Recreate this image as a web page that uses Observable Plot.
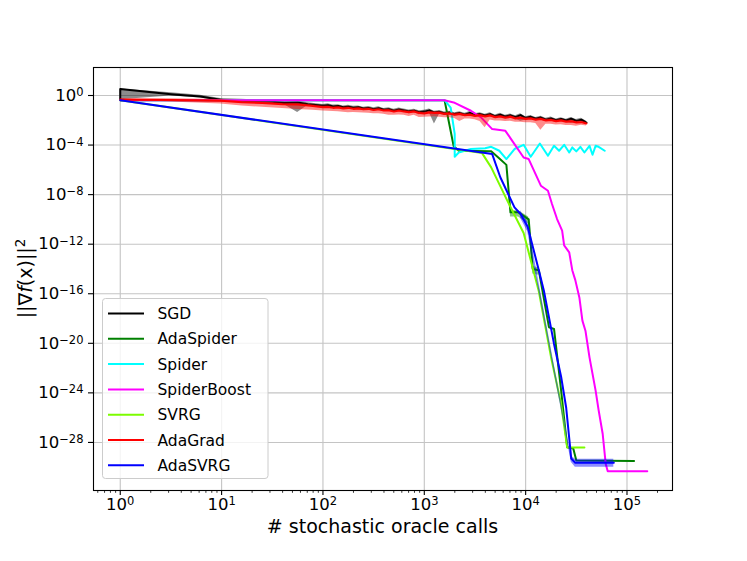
<!DOCTYPE html>
<html><head><meta charset="utf-8">
<script src="https://cdn.jsdelivr.net/npm/d3@7"></script>
<script src="https://cdn.jsdelivr.net/npm/@observablehq/plot@0.6"></script>
<style>body{margin:0;background:#fff;} svg{display:block;}</style>
</head><body><div id="chart"></div>
<script>
// Values are stored as base-10 exponents (log10 of x and of y).
const names = ["SGD","AdaSpider","Spider","SpiderBoost","SVRG","AdaGrad","AdaSVRG"];
const colors = ["#000000","#008000","#00ffff","#ff00ff","#7cfc00","#ff0000","#0000ff"];

const sgdLogX = [0,0,0.5,0.79,0.99,1.2,1.35,1.5,1.62,1.75,1.85,
  2.00,2.05,2.10,2.15,2.20,2.25,2.30,2.35,2.40,2.45,
  2.50,2.55,2.60,2.65,2.70,2.75,2.80,2.85,2.90,2.95,
  3.00,3.05,3.10,3.15,3.20,3.25,3.30,3.35,3.40,3.45,
  3.50,3.55,3.60,3.65,3.70,3.75,3.80,3.85,3.90,3.95,
  4.00,4.05,4.10,4.15,4.20,4.25,4.30,4.35,4.40,4.45,
  4.50,4.55,4.60];
const sgdLogY = [-0.35,0.52,0.11,-0.08,-0.35,-0.42,-0.48,-0.5,-0.6,-0.56,-0.7,
  -0.83,-0.78,-0.88,-0.85,-0.95,-0.9,-0.98,-0.95,-1.05,-1.0,
  -1.1,-1.02,-1.15,-1.1,-1.22,-1.12,-1.2,-1.28,-1.22,-1.35,
  -1.3,-1.2,-1.38,-1.32,-1.45,-1.38,-1.5,-1.42,-1.55,-1.4,
  -1.58,-1.5,-1.62,-1.5,-1.68,-1.55,-1.7,-1.6,-1.75,-1.58,
  -1.82,-1.72,-1.88,-1.78,-1.95,-1.85,-2.0,-1.9,-2.02,-1.88,
  -2.05,-1.95,-2.18];
const sgdBandBelow = [0,0.87,0.16,0.12,0.1,0.08,0.12,0.1,0.15,0.81,0.1,
  0.15,0.2,0.15,0.2,0.15,0.2,0.15,0.2,0.15,0.2,
  0.15,0.2,0.15,0.2,0.15,0.2,0.15,0.2,0.15,0.2,
  0.15,0.2,0.92,0.2,0.15,0.2,0.15,0.2,0.15,0.2,
  0.15,0.2,0.15,0.2,0.15,0.2,0.15,0.2,0.15,0.5,
  0.15,0.2,0.15,0.2,0.15,0.2,0.15,0.2,0.15,0.35,
  0.15,0.2,0.1];
const sgdBandAboveFirst = 0.87;   // band at x = 1 spans up to the second point
const sgdBandAbove = 0.11;

const adaSpiderLogX = [0,3.2,3.29,3.34,3.66,3.73,3.81,3.85,3.93,4.03,4.07,4.13,4.23,4.28,4.35,4.41,4.47,4.50,5.07];
const adaSpiderLogY = [-0.38,-0.38,-4.1,-4.46,-4.5,-5.0,-5.6,-9.43,-9.43,-10.0,-14.0,-14.1,-18.7,-18.84,-23.8,-28.4,-28.5,-29.46,-29.5];
const adaSpiderBandX = [3.85,3.93,4.03,4.07,4.13];
const adaSpiderBandLo = [-9.8,-9.8,-10.4,-14.4,-14.5];
const adaSpiderBandHi = [-9.3,-9.3,-9.8,-13.8,-13.9];

const spiderLogX = [0,3.2,3.26,3.30,3.30,3.34,3.46,3.6,3.66,3.74,3.81,3.89,3.98,4.05,4.14,4.22,4.28,4.33,4.38,4.43,4.46,4.50,4.54,4.58,4.63,4.66,4.69,4.72,4.78];
const spiderLogY = [-0.38,-0.38,-0.97,-3.1,-4.94,-4.6,-4.32,-4.25,-4.14,-4.46,-5.13,-4.32,-3.98,-4.94,-3.87,-4.86,-4.06,-4.46,-3.98,-4.6,-4.19,-4.51,-4.14,-4.6,-4.06,-4.78,-4.06,-4.14,-4.46];

const spiderBoostLogX = [0,3.2,3.29,3.46,3.56,3.67,3.80,3.98,4.03,4.15,4.22,4.26,4.31,4.36,4.38,4.43,4.46,4.49,4.53,4.56,4.59,4.63,4.66,4.69,4.72,4.76,4.79,4.81,5.20];
const spiderBoostLogY = [-0.38,-0.38,-0.56,-1.23,-1.77,-2.71,-2.85,-5.0,-5.13,-7.28,-7.69,-8.76,-9.97,-10.9,-12.1,-12.66,-14.1,-14.9,-16.3,-18.17,-18.98,-21.13,-22.47,-23.8,-25.4,-27.3,-29.73,-30.32,-30.32];

const svrgLogX = [0,3.57,3.66,3.82,3.98,4.13,4.25,4.35,4.41,4.58];
const svrgLogY = [-0.38,-4.65,-5.8,-8.5,-11.1,-15.8,-21.1,-24.9,-28.4,-28.4];

const adaGradLogX = [0,0.5,0.99,1.2,1.4,1.6,1.75,1.9,
  2.00,2.05,2.10,2.15,2.20,2.25,2.30,2.35,2.40,2.45,
  2.50,2.55,2.60,2.65,2.70,2.75,2.80,2.85,2.90,2.95,
  3.00,3.05,3.10,3.15,3.20,3.25,3.30,3.35,3.40,3.45,
  3.50,3.55,3.60,3.65,3.70,3.75,3.80,3.85,3.90,3.95,
  4.00,4.05,4.10,4.15,4.20,4.25,4.30,4.35,4.40,4.45,
  4.50,4.55,4.60];
const adaGradLogY = [-0.35,-0.37,-0.43,-0.55,-0.6,-0.7,-0.72,-0.85,
  -0.95,-0.92,-1.0,-0.97,-1.05,-1.0,-1.08,-1.05,-1.12,-1.08,
  -1.18,-1.12,-1.22,-1.2,-1.3,-1.22,-1.3,-1.35,-1.3,-1.42,
  -1.45,-1.38,-1.42,-1.4,-1.5,-1.45,-1.55,-1.5,-1.6,-1.55,
  -1.65,-1.6,-1.7,-1.62,-1.75,-1.7,-1.8,-1.72,-1.85,-1.8,
  -1.9,-1.85,-1.95,-1.9,-2.02,-1.98,-2.08,-2.02,-2.12,-2.08,
  -2.18,-2.15,-2.26];
const adaGradBandBelow = [0,0.15,0.25,0.3,0.35,0.35,0.4,0.35,
  0.3,0.35,0.3,0.35,0.3,0.4,0.3,0.35,0.3,0.35,
  0.3,0.35,0.3,0.4,0.3,0.35,0.3,0.35,0.3,0.35,
  0.3,0.35,0.3,0.35,0.3,0.35,0.3,0.6,0.3,0.35,
  0.3,0.5,0.9,0.35,0.3,0.35,0.3,0.35,0.3,0.35,
  0.3,0.35,0.3,0.9,0.3,0.35,0.3,0.35,0.3,0.35,
  0.3,0.25,0.2];
const adaGradBandAbove = 0.1;

const adaSvrgLogX = [0,3.67,3.75,3.89,3.95,4.02,4.13,4.18,4.28,4.35,4.40,4.45,4.49,4.87];
const adaSvrgLogY = [-0.38,-4.73,-6.6,-9.03,-9.56,-10.6,-14.1,-15.75,-20.05,-22.7,-25.2,-29.3,-29.65,-29.65];
const adaSvrgBandX = [3.95,4.02,4.45,4.49,4.87];
const adaSvrgBandLo = [-9.9,-11.0,-29.6,-30.0,-30.0];
const adaSvrgBandHi = [-9.3,-10.2,-29.1,-29.35,-29.35];

const xTickExps = [0,1,2,3,4,5];
const yTickExps = [0,-4,-8,-12,-16,-20,-24,-28];
const xDomainExps = [-0.264, 5.449];
const yDomainExps = [-31.88, 2.26];
const xLabel = "# stochastic oracle calls";

const pts = (lx, ly) => lx.map((v, i) => ({x: 10 ** v, y: 10 ** ly[i]}));
const band = (lx, lo, hi) => lx.map((v, i) => ({x: 10 ** v, lo: 10 ** lo[i], hi: 10 ** hi[i]}));
const sgdLo = sgdLogY.map((v, i) => v - sgdBandBelow[i]);
const sgdHi = sgdLogY.map((v, i) => v + (i === 0 ? sgdBandAboveFirst : (i === 1 ? 0 : sgdBandAbove)));
const agLo = adaGradLogY.map((v, i) => v - adaGradBandBelow[i]);
const agHi = adaGradLogY.map((v, i) => v + adaGradBandAbove);

const series = [
  {data: pts(sgdLogX, sgdLogY), band: band(sgdLogX, sgdLo, sgdHi)},
  {data: pts(adaSpiderLogX, adaSpiderLogY), band: band(adaSpiderBandX, adaSpiderBandLo, adaSpiderBandHi)},
  {data: pts(spiderLogX, spiderLogY)},
  {data: pts(spiderBoostLogX, spiderBoostLogY)},
  {data: pts(svrgLogX, svrgLogY)},
  {data: pts(adaGradLogX, adaGradLogY), band: band(adaGradLogX, agLo, agHi)},
  {data: pts(adaSvrgLogX, adaSvrgLogY), band: band(adaSvrgBandX, adaSvrgBandLo, adaSvrgBandHi)}
];

const xTicks = xTickExps.map(e => 10 ** e);
const yTicks = yTickExps.map(e => 10 ** e);
const minorX = [];
for (let e = -1; e <= 5; e++) for (let k = 2; k <= 9; k++) minorX.push(k * 10 ** e);

const fmt = d => "10^" + Math.round(Math.log10(d));

const marks = [
  Plot.gridX(xTicks, {stroke: "#c4c4c4", strokeOpacity: 1, strokeWidth: 1.1}),
  Plot.gridY(yTicks, {stroke: "#c4c4c4", strokeOpacity: 1, strokeWidth: 1.1})
];
series.forEach((s, i) => {
  if (s.band) marks.push(Plot.areaY(s.band, {x: "x", y1: "lo", y2: "hi", fill: colors[i], fillOpacity: 0.45}));
  marks.push(Plot.line(s.data, {x: "x", y: "y", stroke: colors[i], strokeWidth: 2, strokeLinejoin: "round"}));
});
marks.push(
  Plot.frame({stroke: "#000", strokeWidth: 1.1}),
  Plot.axisX(minorX.filter(v => v >= 10 ** xDomainExps[0] && v <= 10 ** xDomainExps[1]), {tickSize: 2.8, strokeWidth: 0.8, tickFormat: () => "", label: null}),
  Plot.axisX(xTicks, {tickSize: 5, tickPadding: 3, tickFormat: fmt, label: null, strokeWidth: 1.1, fill: "#000"}),
  Plot.axisY(yTicks, {tickSize: 5, tickPadding: 5, tickFormat: fmt, label: null, strokeWidth: 1.1, fill: "#000"})
);

const svg = Plot.plot({
  width: 747, height: 561,
  marginLeft: 93, marginRight: 75, marginTop: 67, marginBottom: 71,
  style: {fontFamily: "DejaVu Sans", fontSize: "16px", background: "#fff", color: "#000"},
  x: {type: "log", domain: xDomainExps.map(e => 10 ** e)},
  y: {type: "log", domain: yDomainExps.map(e => 10 ** e)},
  marks
});
document.getElementById("chart").appendChild(svg);

const S = d3.select(svg);
// drop the empty labels of the minor ticks
S.selectAll("text").filter(function () { return this.textContent === ""; }).remove();
// superscript exponents in tick labels
S.selectAll('g[aria-label="x-axis tick label"] text, g[aria-label="y-axis tick label"] text').each(function () {
  const t = this.textContent;
  if (!t.startsWith("10^")) return;
  const e = t.slice(3).replace("-", "\u2212");
  const el = d3.select(this);
  el.text(null).style("font-size", "16.5px");
  el.append("tspan").text("10");
  el.append("tspan").attr("dy", "-0.42em").style("font-size", "11.5px").text(e);
});

// axis labels
S.append("text").attr("x", (93 + 672) / 2).attr("y", 533).attr("text-anchor", "middle")
  .style("font-size", "19px").attr("fill", "#000").text(xLabel);
const yl = S.append("text").attr("transform", "translate(32,278.5) rotate(-90)")
  .attr("text-anchor", "middle").style("font-size", "19px").attr("fill", "#000");
yl.append("tspan").text("||\u2207");
yl.append("tspan").attr("font-style", "italic").text("f");
yl.append("tspan").text("(x)||");
yl.append("tspan").attr("dy", "-0.5em").style("font-size", "13.5px").text("2");

// legend
const lg = S.append("g").attr("text-anchor", "start");
lg.append("rect").attr("x", 102.5).attr("y", 298.5).attr("width", 165.5).attr("height", 180)
  .attr("rx", 3).attr("fill", "#fff").attr("fill-opacity", 0.8).attr("stroke", "#cccccc").attr("stroke-width", 1);
names.forEach((n, i) => {
  const y = 313.5 + i * 25.3;
  lg.append("line").attr("x1", 108).attr("x2", 144).attr("y1", y).attr("y2", y)
    .attr("stroke", colors[i]).attr("stroke-width", 2);
  lg.append("text").attr("x", 157.5).attr("y", y).attr("dy", "0.36em").attr("text-anchor", "start")
    .style("font-size", "15.5px").attr("fill", "#000").text(n);
});
</script></body></html>
